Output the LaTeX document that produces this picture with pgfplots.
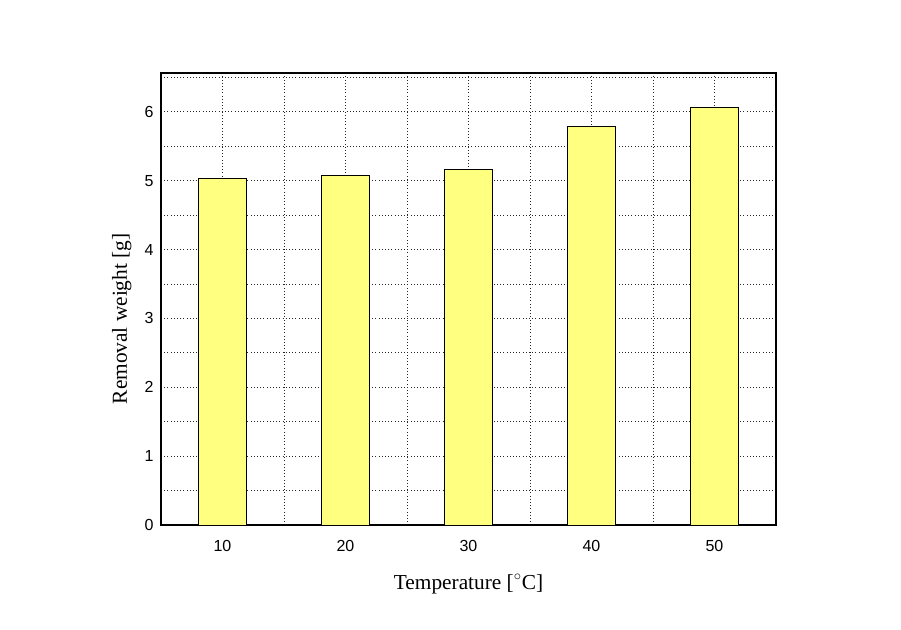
\documentclass[border=0pt]{standalone}
\usepackage{fontspec}
\setmainfont{Liberation Serif}
\newfontfamily\arial{Liberation Sans}
\usepackage{pgfplots}
\pgfplotsset{compat=1.18}
\begin{document}
\begin{tikzpicture}
\useasboundingbox (0,0) rectangle (675.75pt,472.5pt);
\begin{axis}[
  at={(120.75pt,78.75pt)}, anchor=south west,
  scale only axis, width=461.25pt, height=339pt,
  xmin=5, xmax=55, ymin=0, ymax=6.565,
  xtick={10,20,30,40,50},
  minor xtick={15,25,35,45},
  ytick={0,1,2,3,4,5,6},
  minor ytick={0.5,1.5,2.5,3.5,4.5,5.5,6.5},
  major tick length=0pt, minor tick length=0pt,
  grid=both,
  major grid style={black!85, dotted, line width=0.6pt},
  minor grid style={black!85, dotted, line width=0.6pt},
  axis line style={line width=1.3pt},
  tick label style={font=\arial\fontsize{12}{14}\selectfont},
  /pgf/number format/assume math mode=true,
  xticklabel style={yshift=-8pt},
  yticklabel style={xshift=-2pt},
  xlabel={Temperature [$^\circ$C]},
  ylabel={Removal weight [g]},
  label style={font=\fontsize{16}{19}\selectfont},
  xlabel style={yshift=-10pt},
  ylabel style={at={(ticklabel cs:0.456)}, yshift=3pt},
]
\addplot[ybar, bar width=3.9, fill={rgb,255:red,255;green,255;blue,128}, draw=black, line width=0.6pt]
  coordinates {(10,5.035) (20,5.08) (30,5.17) (40,5.79) (50,6.06)};
\end{axis}
\end{tikzpicture}
\end{document}
